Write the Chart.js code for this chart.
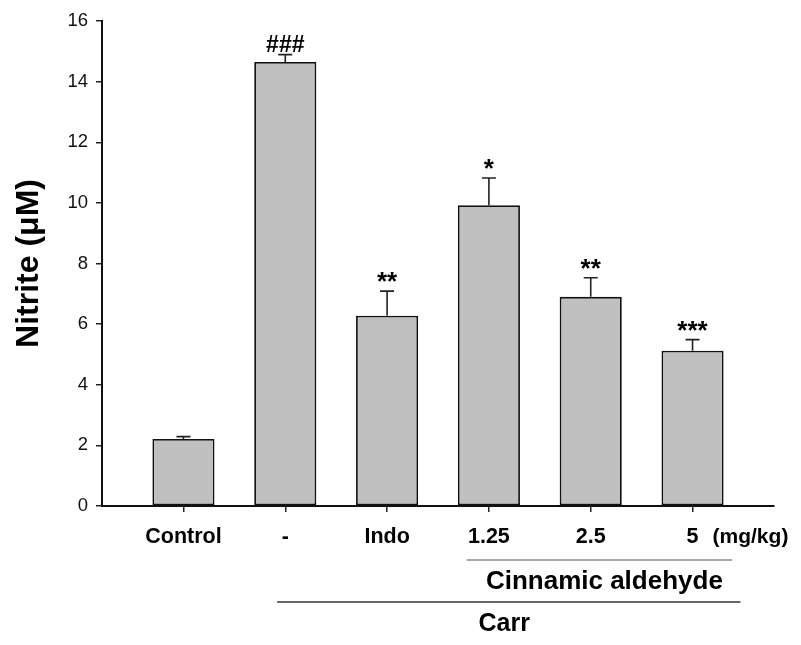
<!DOCTYPE html>
<html>
<head>
<meta charset="utf-8">
<script src="https://cdn.jsdelivr.net/npm/chart.js@4"></script>
<style>
  body { margin: 0; background: #fff; }
</style>
</head>
<body>
<canvas id="bar-chart" width="801" height="645"></canvas>
<script>
const grupos = ["Control", "-", "Indo", "1.25", "2.5", "5"]
const nitrito = [2.21, 14.65, 6.28, 9.92, 6.90, 5.12]
const erro = [0.08, 0.24, 0.81, 0.90, 0.63, 0.37]
const sinais = ["", "###", "**", "*", "**", "***"]
const yTicks = [0, 2, 4, 6, 8, 10, 12, 14, 16]

// linhas embaixo do eixo x (inicio/fim em unidades de categoria)
const linhas = [
  { texto: "Cinnamic aldehyde", de: 2.78, ate: 5.39, y: 560, cor: "#8a8a8a", ty: 582, size: 26 },
  { texto: "Carr", de: 0.92, ate: 5.47, y: 602, cor: "#333", ty: 624, size: 25, tx: 3.15 }
]

const extras = {
  id: 'extras',
  afterDatasetsDraw(chart) {
    const ctx = chart.ctx
    const x = chart.scales.x
    const y = chart.scales.y
    ctx.save()
    // barras de erro
    ctx.strokeStyle = "#222"
    ctx.lineWidth = 1.6
    nitrito.forEach((v, i) => {
      const cx = x.getPixelForValue(i)
      const y0 = y.getPixelForValue(v)
      const y1 = y.getPixelForValue(v + erro[i])
      ctx.beginPath()
      ctx.moveTo(cx, y0)
      ctx.lineTo(cx, y1)
      ctx.moveTo(cx - 7, y1)
      ctx.lineTo(cx + 7, y1)
      ctx.stroke()
      // sinais de significancia
      ctx.fillStyle = "#000"
      ctx.textAlign = "center"
      ctx.textBaseline = "alphabetic"
      if (sinais[i].startsWith("#")) {
        ctx.font = "bold 23px 'Liberation Sans', Arial, sans-serif"
        ctx.fillText(sinais[i], cx, y1 - 3)
      } else if (sinais[i]) {
        ctx.font = "bold 26px 'Liberation Sans', Arial, sans-serif"
        ctx.fillText(sinais[i], cx, y1 - 1)
      }
    })
    // (mg/kg)
    ctx.font = "bold 21px 'Liberation Sans', Arial, sans-serif"
    ctx.textAlign = "left"
    ctx.textBaseline = "middle"
    ctx.fillText("(mg/kg)", x.getPixelForValue(5) + 20, 537)
    // linhas de grupo
    linhas.forEach(l => {
      const xa = x.getPixelForValue(l.de)
      const xb = x.getPixelForValue(l.ate)
      ctx.strokeStyle = l.cor
      ctx.lineWidth = 1.6
      ctx.beginPath()
      ctx.moveTo(xa, l.y)
      ctx.lineTo(xb, l.y)
      ctx.stroke()
      ctx.font = `bold ${l.size}px 'Liberation Sans', Arial, sans-serif`
      ctx.textAlign = "center"
      ctx.fillStyle = "#000"
      const tx = l.tx !== undefined ? x.getPixelForValue(l.tx) : (xa + xb) / 2 + 5
      ctx.fillText(l.texto, tx, l.ty)
    })
    ctx.restore()
  }
}

new Chart(document.getElementById("bar-chart"), {
  type: 'bar',
  data: {
    datasets: [{
      label: "Nitrite",
      data: nitrito.map((v, i) => ({ x: i, y: v })),
      backgroundColor: "#c0c0c0",
      borderColor: "#111",
      borderWidth: 1.8,
      borderSkipped: false,
      barPercentage: 0.61,
      categoryPercentage: 1.0
    }]
  },
  options: {
    responsive: false,
    animation: false,
    layout: { padding: { left: 0, right: 27, top: 21, bottom: 0 } },
    plugins: {
      legend: { display: false },
      tooltip: { enabled: false }
    },
    scales: {
      x: {
        type: 'linear',
        offset: false,
        min: -0.8,
        max: 5.8,
        afterBuildTicks: scale => { scale.ticks = grupos.map((g, i) => ({ value: i })) },
        afterFit: scale => { scale.height = 139 },
        grid: { offset: false, drawOnChartArea: false, drawTicks: true, tickLength: 6, color: "#222", lineWidth: 1.5 },
        border: { display: true, color: "#111", width: 2 },
        ticks: {
          padding: 12,
          color: "#000",
          font: { family: "'Liberation Sans', Arial, sans-serif", size: 21.5, weight: 'bold' },
          callback: value => grupos[value]
        }
      },
      y: {
        min: 0,
        max: 16,
        afterBuildTicks: scale => { scale.ticks = yTicks.map(v => ({ value: v })) },
        afterFit: scale => { scale.width = 102 },
        grid: { drawOnChartArea: false, drawTicks: true, tickLength: 6, color: "#222", lineWidth: 1.5 },
        border: { display: true, color: "#111", width: 2 },
        ticks: {
          padding: 8,
          color: "#111",
          font: { family: "'Liberation Sans', Arial, sans-serif", size: 18.5 }
        },
        title: {
          display: true,
          text: "Nitrite (μM)",
          color: "#000",
          padding: { top: 10, bottom: 0 },
          font: { family: "'Liberation Sans', Arial, sans-serif", size: 32, weight: 'bold' }
        }
      }
    }
  },
  plugins: [extras]
});
</script>
</body>
</html>
